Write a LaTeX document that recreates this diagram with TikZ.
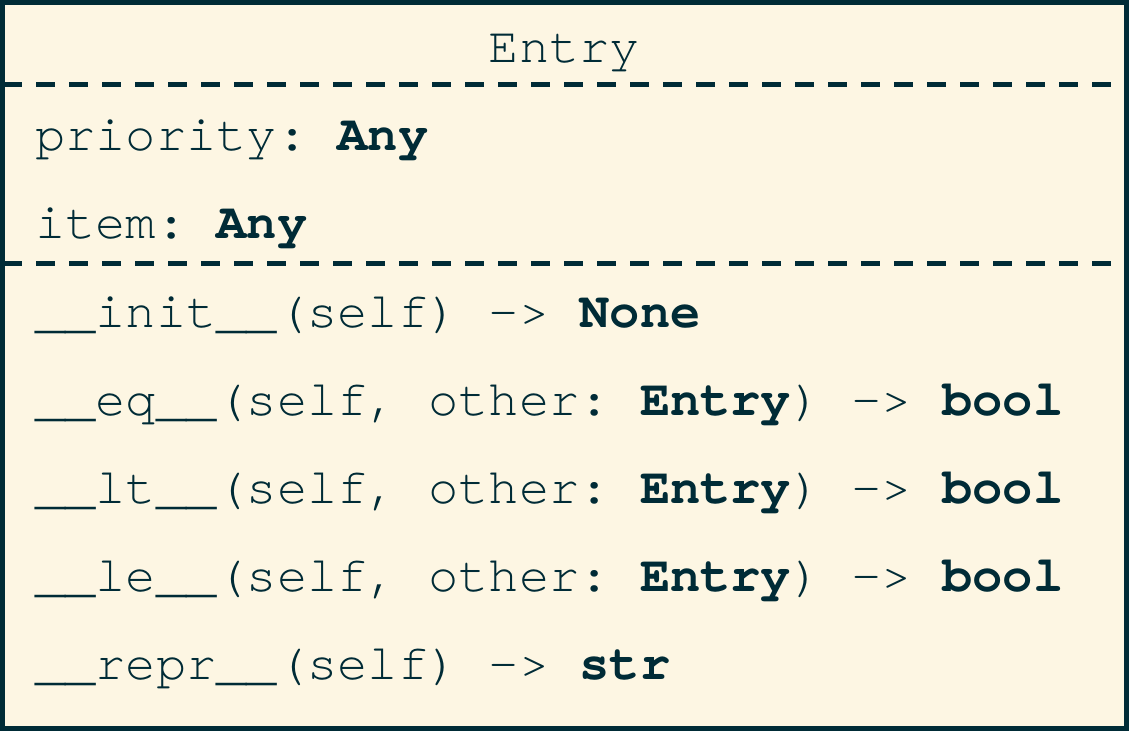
\documentclass[tikz,border=0pt]{standalone}
\usepackage{fontspec}
\setmonofont{TeX Gyre Cursor}
\usetikzlibrary{positioning}
\definecolor{paper}{HTML}{FDF6E3}
\definecolor{ink}{HTML}{002B36}

\begin{document}
\begin{tikzpicture}[x=1pt,y=-1pt]
	\tikzstyle{member} = [anchor=base west,inner sep=0pt,text=ink,font=\ttfamily\fontsize{50.4}{60}\selectfont]
	\tikzstyle{divider} = [draw=ink,line width=5pt,dash pattern=on 19pt off 14pt]
	\useasboundingbox (0,0) rectangle (1129,731);
	\fill[paper] (0,0) rectangle (1129,731);
	% class name
	\node[member,anchor=base](name) at (564.5,62) {Entry};
	\draw[divider] (3,84.5) -- (1129,84.5);
	% attributes
	\node[member](priority) at (35,150) {priority: \textbf{Any}};
	\node[member](item) at (35,238) {item: \textbf{Any}};
	\draw[divider] (3,263.5) -- (1129,263.5);
	% methods
	\node[member](init) at (35,327) {\_\_init\_\_(self) -> \textbf{None}};
	\node[member](eq) at (35,415) {\_\_eq\_\_(self, other: \textbf{Entry}) -> \textbf{bool}};
	\node[member](lt) at (35,503) {\_\_lt\_\_(self, other: \textbf{Entry}) -> \textbf{bool}};
	\node[member](le) at (35,591) {\_\_le\_\_(self, other: \textbf{Entry}) -> \textbf{bool}};
	\node[member](repr) at (35,679) {\_\_repr\_\_(self) -> \textbf{str}};
	% frame
	\draw[ink,line width=5pt] (2.5,2.5) rectangle (1126.5,728.5);
\end{tikzpicture}
\end{document}
